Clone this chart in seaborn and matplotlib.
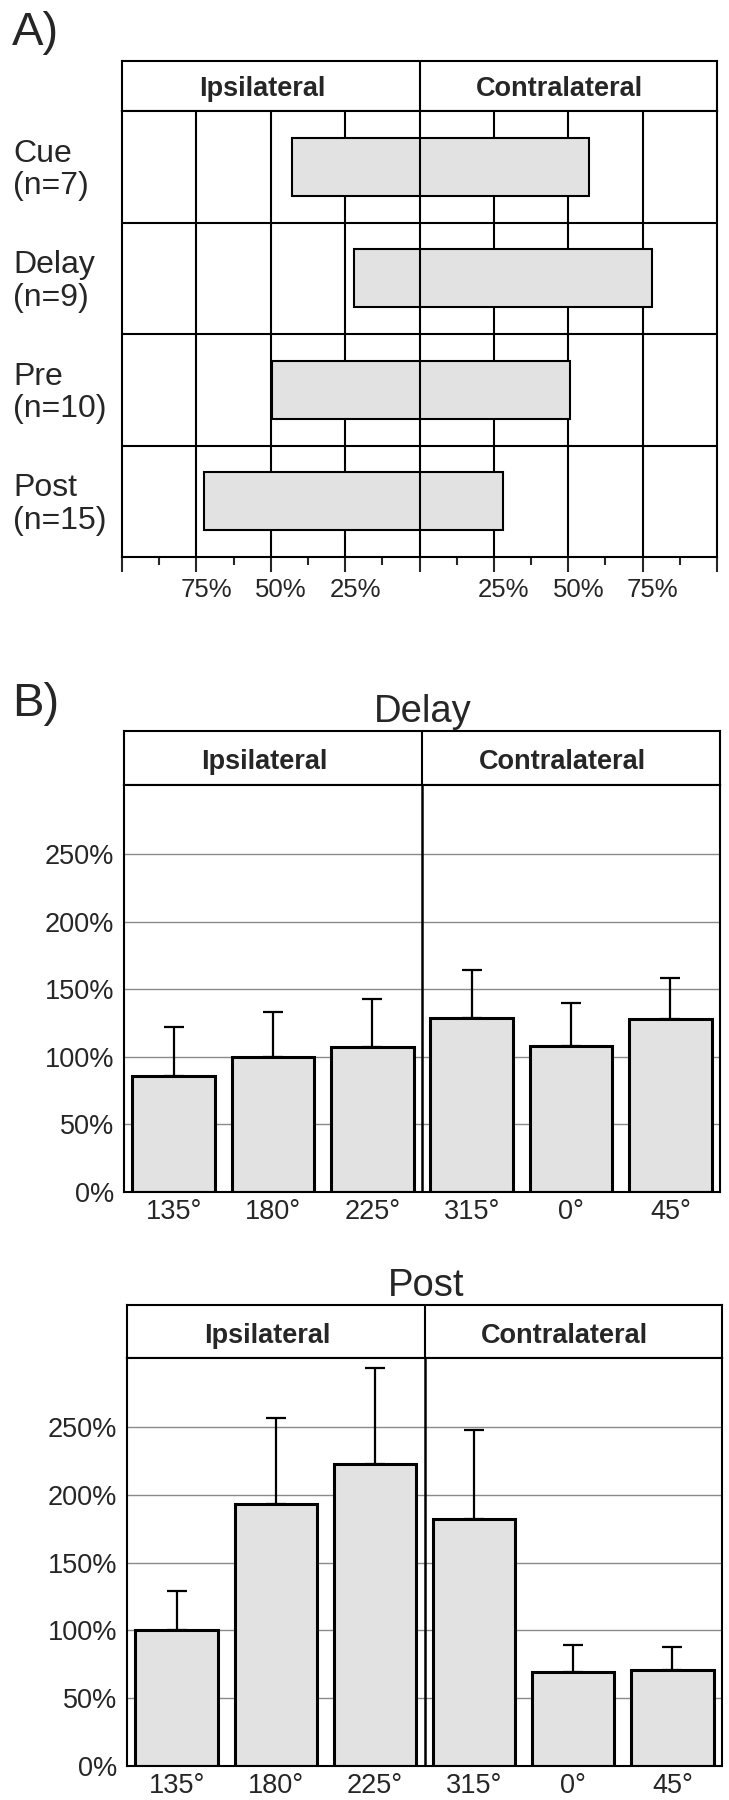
import numpy as np
import matplotlib
matplotlib.use("Agg")
import matplotlib.pyplot as plt
import matplotlib.transforms as mtransforms
import seaborn as sns

# panel A: extent of the response field for each task epoch (% of range)
epochs = ["Cue", "Delay", "Pre", "Post"]
n_cells = [7, 9, 10, 15]
ipsi_extent = [43.0, 22.0, 49.5, 72.5]
contra_extent = [57.0, 78.0, 50.5, 28.0]

# panel B: normalised response per target direction (mean and upper error)
directions = ["135°", "180°", "225°", "315°", "0°", "45°"]
delay_mean = [86, 99.5, 107, 129, 108, 128]
delay_err = [36, 33.5, 35.5, 35, 32, 30.5]
post_mean = [100, 193.5, 223, 182, 69, 70.5]
post_err = [29, 63.5, 70.5, 66, 20, 17]

side_labels = ["Ipsilateral", "Contralateral"]
pct_ticks = [0, 50, 100, 150, 200, 250]

W, H = 729, 1800
LW = 1.5
BAR_FILL = "#e2e2e2"

sns.set_style("white")
plt.rcParams["font.family"] = ["Liberation Sans", "DejaVu Sans"]


def fig_rect(left, top, right, bottom):
    # pixel box -> figure fraction rect
    return [left / W, 1 - bottom / H, (right - left) / W, (bottom - top) / H]


def draw_header(fig, rect):
    hax = fig.add_axes(rect)
    hax.set_xlim(0, 1)
    hax.set_ylim(0, 1)
    hax.set_xticks([])
    hax.set_yticks([])
    for s in hax.spines.values():
        s.set_linewidth(LW)
        s.set_color("black")
    hax.axvline(0.5, color="black", lw=LW)
    for xc, lab in zip([0.235, 0.735], side_labels):
        hax.text(xc, 0.29, lab, ha="center", va="baseline",
                 fontsize=19.5, fontweight="bold")
    return hax


def draw_bars(fig, rect, means, errs):
    ax = fig.add_axes(rect)
    sns.barplot(x=directions, y=means, color=BAR_FILL, saturation=1,
                edgecolor="black", linewidth=2.2, width=0.83,
                errorbar=None, ax=ax, zorder=2)
    xs = np.arange(len(directions))
    ax.errorbar(xs, means, yerr=[np.zeros(len(errs)), errs], fmt="none",
                ecolor="black", elinewidth=1.6, capsize=7.5, capthick=1.6,
                zorder=3)
    ax.set_xlim(-0.5, len(directions) - 0.5)
    ax.set_ylim(0, 301)
    ax.set_yticks(pct_ticks)
    ax.set_yticklabels([f"{v}%" for v in pct_ticks])
    ax.set_xticks(np.arange(0.5, len(directions) - 1, 1), minor=True)
    ax.yaxis.grid(True, color="#8a8a8a", lw=1)
    ax.xaxis.grid(False)
    ax.set_axisbelow(True)
    ax.axvline(2.5, color="black", lw=1.8, zorder=4)
    ax.tick_params(axis="y", length=0, labelsize=19.5, pad=7)
    ax.tick_params(axis="x", which="major", length=0, labelsize=19.5, pad=5)
    ax.tick_params(axis="x", which="minor", length=4, width=0.8, color="#777777")
    ax.set_xlabel("")
    ax.set_ylabel("")
    for s in ax.spines.values():
        s.set_visible(True)
        s.set_linewidth(LW)
        s.set_color("black")
    return ax


fig = plt.figure(figsize=(W / 100, H / 100), dpi=100)

# ---- panel A ----
fig.text(12 / W, 1 - 45 / H, "A)", fontsize=34, va="baseline")
draw_header(fig, fig_rect(122, 61, 717, 111))

ax = fig.add_axes(fig_rect(122, 111, 717, 557))
ypos = np.arange(len(epochs))
lefts = -np.array(ipsi_extent)
widths = np.array(ipsi_extent) + np.array(contra_extent)
ax.barh(ypos, widths, left=lefts, height=0.52, color=BAR_FILL,
        edgecolor="black", linewidth=1.5, zorder=3)
ax.set_xlim(-100, 100)
ax.set_ylim(len(epochs) - 0.5, -0.5)
for xv in [-75, -50, -25, 25, 50, 75]:
    ax.axvline(xv, color="black", lw=LW, zorder=1)
ax.axvline(0, color="black", lw=LW, zorder=4)
for yv in ypos[:-1] + 0.5:
    ax.axhline(yv, color="black", lw=LW, zorder=1)
ax.set_yticks([])
ax.set_xticks(np.arange(-100, 101, 25))
ax.set_xticklabels(["", "75%", "50%", "25%", "", "25%", "50%", "75%", ""])
ax.set_xticks(np.arange(-87.5, 100, 25), minor=True)
ax.tick_params(axis="x", which="major", length=11, width=LW,
               labelsize=18.5, pad=4, direction="out", bottom=True)
ax.tick_params(axis="x", which="minor", length=6, width=LW,
               direction="out", bottom=True)
shift = mtransforms.ScaledTranslation(10 / 100, 0, fig.dpi_scale_trans)
for lab in ax.get_xticklabels():
    lab.set_transform(lab.get_transform() + shift)
for s in ax.spines.values():
    s.set_linewidth(LW)
    s.set_color("black")

row_tr = mtransforms.blended_transform_factory(fig.transFigure, ax.transData)
for yv, name, n in zip(ypos, epochs, n_cells):
    ax.text(13 / W, yv + 0.03, f"{name}\n(n={n})", transform=row_tr,
            ha="left", va="center", fontsize=23, linespacing=1.1)

# ---- panel B ----
fig.text(12 / W, 1 - 716 / H, "B)", fontsize=34, va="baseline")

fig.text(423 / W, 1 - 722 / H, "Delay", ha="center", va="baseline", fontsize=27.5)
draw_header(fig, fig_rect(124, 731, 720, 785))
draw_bars(fig, fig_rect(124, 785, 720, 1192), delay_mean, delay_err)

fig.text(426 / W, 1 - 1296 / H, "Post", ha="center", va="baseline", fontsize=27.5)
draw_header(fig, fig_rect(127, 1305, 722, 1358))
draw_bars(fig, fig_rect(127, 1358, 722, 1766), post_mean, post_err)

fig.savefig("out.png", dpi=100)
